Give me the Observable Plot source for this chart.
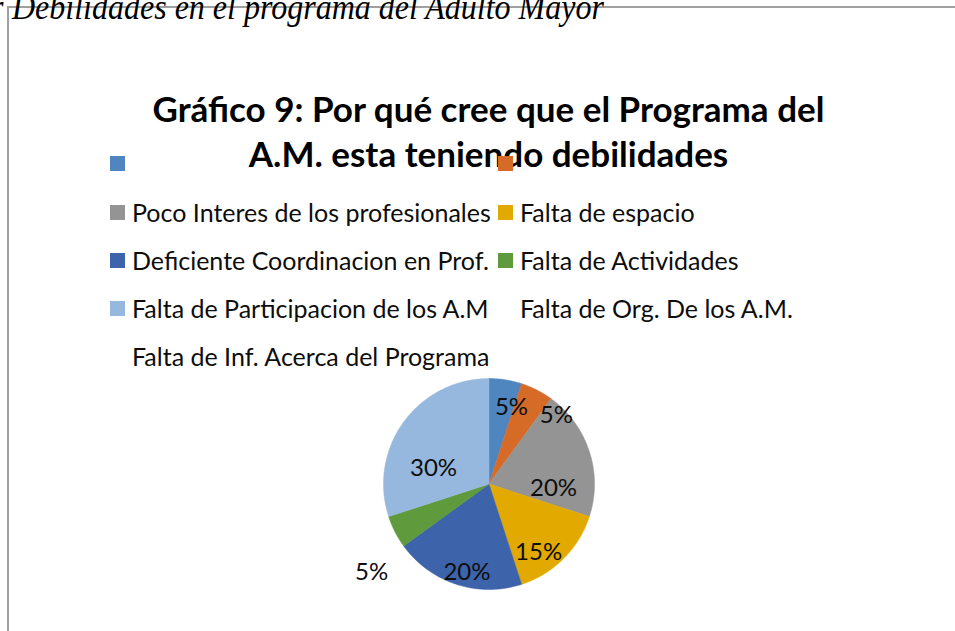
<!DOCTYPE html>
<html><head><meta charset="utf-8">
<script src="https://cdn.jsdelivr.net/npm/d3@7"></script>
<script src="https://cdn.jsdelivr.net/npm/@observablehq/plot@0.6"></script>
<style>
html,body{margin:0;padding:0;background:#fff;}
body{width:955px;height:631px;overflow:hidden;position:relative;font-family:Lato,"Open Sans",sans-serif;color:#0d0d0d;}
#chart{position:absolute;left:0;top:0;}
.frameTop{position:absolute;left:8px;top:6px;width:947px;height:0;border-top:2px solid #a0a0a0;}
.frameLeft{position:absolute;left:7px;top:6px;width:0;height:625px;border-left:2px solid #a0a0a0;}
.header{position:absolute;top:-11px;font-family:"Liberation Serif","DejaVu Serif",serif;font-style:italic;font-size:32px;color:#000;white-space:nowrap;line-height:1;transform:scaleY(1.12);transform-origin:0 0;}
.title{position:absolute;left:0;width:977px;text-align:center;font-weight:bold;font-size:35px;color:#000;line-height:1;white-space:nowrap;}
.leg{position:absolute;font-size:25px;white-space:nowrap;line-height:1;}
.sw{position:absolute;width:15px;height:15px;}
</style></head>
<body>
<div id="chart"></div>
<script>
// ---- data ----
const categories = ["", "", "Poco Interes de los profesionales", "Falta de espacio", "Deficiente Coordinacion en Prof.", "Falta de Actividades", "Falta de Participacion de los A.M", "Falta de Org. De los A.M.", "Falta de Inf. Acerca del Programa"];
const shares = [5, 5, 20, 15, 20, 5, 30, 0, 0];
const sliceColors = ["#4f86c0", "#d66b28", "#949494", "#e2aa00", "#3d63ab", "#5f9a3d", "#97b8de", "none", "none"];
const titleLines = ["Gráfico 9: Por qué cree que el Programa del", "A.M. esta teniendo debilidades"];
const headerText = "Debilidades en el programa del Adulto Mayor";

// ---- layout (label anchors: angle in degrees from 12 o'clock, radius as fraction of pie radius) ----
const labelPlacement = [[16.4, 0.755], [44.6, 0.91], [94, 0.613], [144, 0.80], [194, 0.863], [233, 1.393], [285.6, 0.546], null, null];
const W = 955, H = 631, CX = 488.5, CY = 483.5, R = 105.5;

const rows = categories.map((c, i) => ({cat: c, value: shares[i], color: sliceColors[i], idx: i}));
const arcs = d3.pie().sort(null).value(d => d.value)(rows);
const pts = [];
for (const a of arcs) {
  if (a.data.value <= 0) continue;
  pts.push({k: a.data.idx, x: 0, y: 0});
  const n = Math.max(8, Math.ceil((a.endAngle - a.startAngle) / 0.01));
  for (let j = 0; j <= n; j++) {
    const t = a.startAngle + (a.endAngle - a.startAngle) * j / n;
    pts.push({k: a.data.idx, x: Math.sin(t), y: Math.cos(t)});
  }
  pts.push({k: a.data.idx, x: 0, y: 0});
}
const labels = rows.filter(d => d.value > 0).map(d => {
  const [deg, rf] = labelPlacement[d.idx];
  const t = deg * Math.PI / 180;
  return {x: rf * Math.sin(t), y: rf * Math.cos(t), text: d.value + "%"};
});

const chart = Plot.plot({
  width: W, height: H,
  margin: 0,
  x: {domain: [-CX / R, (W - CX) / R], axis: null},
  y: {domain: [(CY - H) / R, CY / R], axis: null},
  marks: [
    Plot.line(pts, {x: "x", y: "y", z: "k", fill: d => sliceColors[d.k], stroke: d => sliceColors[d.k], strokeWidth: 0.5, curve: "linear"}),
    Plot.text(labels, {x: "x", y: "y", text: "text", fontSize: 24, fontFamily: "Lato, 'Open Sans', sans-serif", fill: "#0d0d0d"})
  ]
});
document.getElementById("chart").appendChild(chart);

// ---- overlay text: frame, header, title, legend ----
const body = document.body;
function el(cls, txt, css) { const e = document.createElement("div"); e.className = cls; if (txt != null) e.textContent = txt; Object.assign(e.style, css || {}); body.appendChild(e); return e; }
el("frameTop"); el("frameLeft");
el("header", "r", {left: "-9px"});
el("header", headerText, {left: "12px"});
el("title", titleLines[0], {top: "91px"});
el("title", titleLines[1], {top: "136px"});

const colX = [110, 498], rowY = [156, 205, 253, 301, 349];
categories.forEach((c, i) => {
  const col = i % 2, row = Math.floor(i / 2);
  const x = colX[col], y = rowY[row];
  if (sliceColors[i] !== "none") el("sw", null, {left: x + "px", top: y + "px", background: sliceColors[i]});
  if (c) el("leg", c, {left: (x + 22) + "px", top: (y - 5) + "px"});
});
</script>
</body></html>
